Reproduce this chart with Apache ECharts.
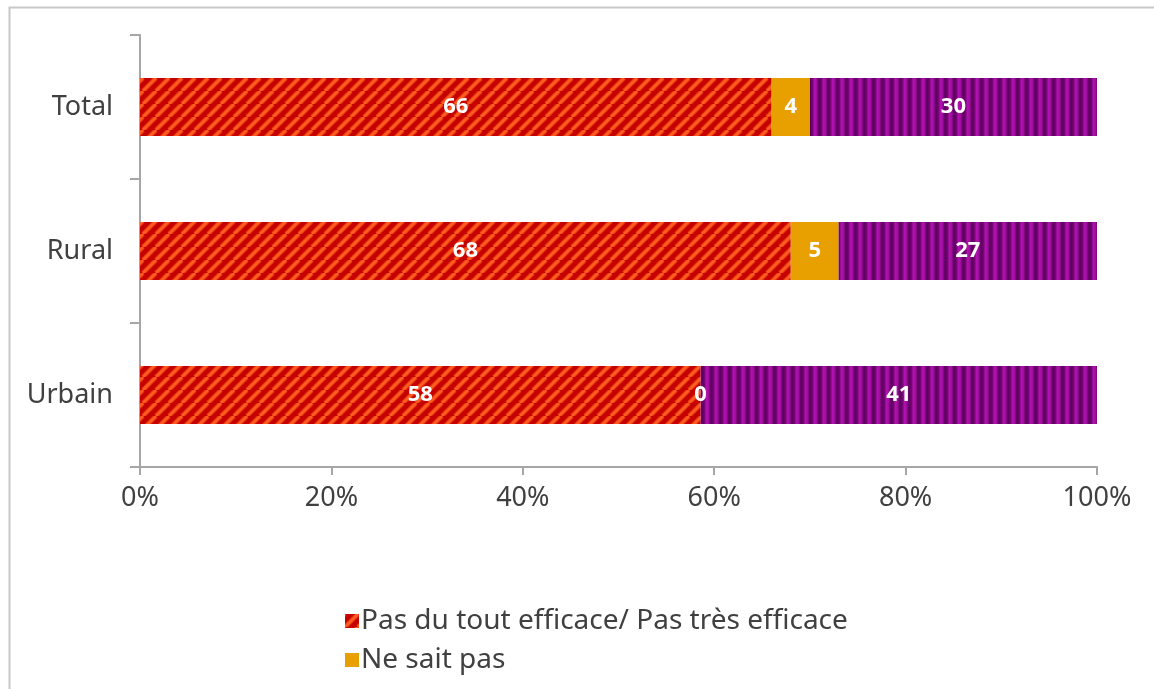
<!DOCTYPE html>
<html>
<head>
<meta charset="utf-8">
<style>
  html, body { margin: 0; padding: 0; background: #ffffff; }
  #chart { width: 1154px; height: 689px; }
</style>
<script src="https://cdn.jsdelivr.net/npm/echarts@6/dist/echarts.min.js"></script>
</head>
<body>
<div id="chart"></div>
<script>
// Categories, bottom to top on the vertical axis
const categories = ['Urbain', 'Rural', 'Total'];
// Shares of answers (%) per category
const notEffective = [58, 68, 66];
const dontKnow = [0, 5, 4];
const effective = [41, 27, 30];
const seriesNames = ['Pas du tout efficace/ Pas très efficace', 'Ne sait pas', 'Assez efficace/ Très efficace'];
const xTickValues = [0, 20, 40, 60, 80, 100];

// Each row is scaled to its own total so the stacked bar fills 0-100%
const rowTotals = categories.map((_, i) => notEffective[i] + dontKnow[i] + effective[i]);
const toShare = arr => arr.map((v, i) => v / rowTotals[i] * 100);

// Diagonal red/orange hatch
function diagonalPattern() {
  const p = 13;
  const c = document.createElement('canvas');
  c.width = p; c.height = p;
  const ctx = c.getContext('2d');
  ctx.fillStyle = '#C40000';
  ctx.fillRect(0, 0, p, p);
  for (let k = -1; k <= 1; k++) {
    ctx.strokeStyle = 'rgba(255,90,30,0.5)';
    ctx.lineWidth = 5;
    ctx.beginPath();
    ctx.moveTo(k * p, p);
    ctx.lineTo(k * p + p, 0);
    ctx.stroke();
    ctx.strokeStyle = '#FF5C1F';
    ctx.lineWidth = 2.8;
    ctx.beginPath();
    ctx.moveTo(k * p, p);
    ctx.lineTo(k * p + p, 0);
    ctx.stroke();
  }
  return c;
}

// Vertical magenta/dark purple stripes
function verticalPattern() {
  const w = 9;
  const c = document.createElement('canvas');
  c.width = w; c.height = 4;
  const ctx = c.getContext('2d');
  const g = ctx.createLinearGradient(0, 0, w, 0);
  g.addColorStop(0, '#5C005C');
  g.addColorStop(0.25, '#6E046E');
  g.addColorStop(0.5, '#B012B0');
  g.addColorStop(0.72, '#A00EA0');
  g.addColorStop(1, '#5C005C');
  ctx.fillStyle = g;
  ctx.fillRect(0, 0, w, 4);
  return c;
}

const axisColor = '#A6A6A6';
const textColor = '#404040';
const fontFamily = '"Noto Sans", "DejaVu Sans", sans-serif';

const rawBySeries = [notEffective, dontKnow, effective];

const labelStyle = {
  show: true,
  position: 'inside',
  color: '#ffffff',
  fontSize: 22,
  fontWeight: 'bold',
  fontFamily: fontFamily,
  formatter: p => String(rawBySeries[p.seriesIndex][p.dataIndex])
};

const chart = echarts.init(document.getElementById('chart'), null, { renderer: 'canvas' });

chart.setOption({
  animation: false,
  backgroundColor: '#ffffff',
  graphic: [{
    type: 'rect',
    left: 7, top: 5,
    shape: { width: 1170, height: 710 },
    style: { fill: 'none', stroke: '#C8C8C8', lineWidth: 2 },
    silent: true
  }],
  grid: { left: 140, right: 57, top: 35, bottom: 222, containLabel: false },
  legend: {
    data: [seriesNames[0], seriesNames[1]],
    orient: 'vertical',
    left: 340,
    top: 602,
    itemWidth: 14,
    itemHeight: 14,
    itemGap: 11,
    icon: 'rect',
    textStyle: { color: textColor, fontSize: 28, fontFamily: fontFamily, padding: [0, 0, 0, -3] }
  },
  xAxis: {
    type: 'value',
    min: 0, max: 100, interval: 20,
    axisLine: { show: true, lineStyle: { color: axisColor, width: 2 } },
    axisTick: { show: true, length: 8, lineStyle: { color: axisColor, width: 2 } },
    splitLine: { show: false },
    axisLabel: {
      formatter: v => xTickValues.includes(v) ? v + '%' : '',
      color: textColor, fontSize: 27, fontFamily: fontFamily, margin: 18
    }
  },
  yAxis: {
    type: 'category',
    data: categories,
    axisLine: { show: true, lineStyle: { color: axisColor, width: 2 } },
    axisTick: { show: true, length: 10, lineStyle: { color: axisColor, width: 2 } },
    axisLabel: { color: textColor, fontSize: 27, fontFamily: fontFamily, margin: 27 }
  },
  series: [
    {
      name: seriesNames[0], type: 'bar', stack: 'all', barWidth: 58,
      data: toShare(notEffective),
      itemStyle: { color: { image: diagonalPattern(), repeat: 'repeat' } },
      label: labelStyle
    },
    {
      name: seriesNames[1], type: 'bar', stack: 'all', barWidth: 58,
      data: toShare(dontKnow),
      itemStyle: { color: '#E8A000' },
      label: labelStyle
    },
    {
      name: seriesNames[2], type: 'bar', stack: 'all', barWidth: 58,
      data: toShare(effective),
      itemStyle: { color: { image: verticalPattern(), repeat: 'repeat' } },
      label: labelStyle
    }
  ]
});
</script>
</body>
</html>
